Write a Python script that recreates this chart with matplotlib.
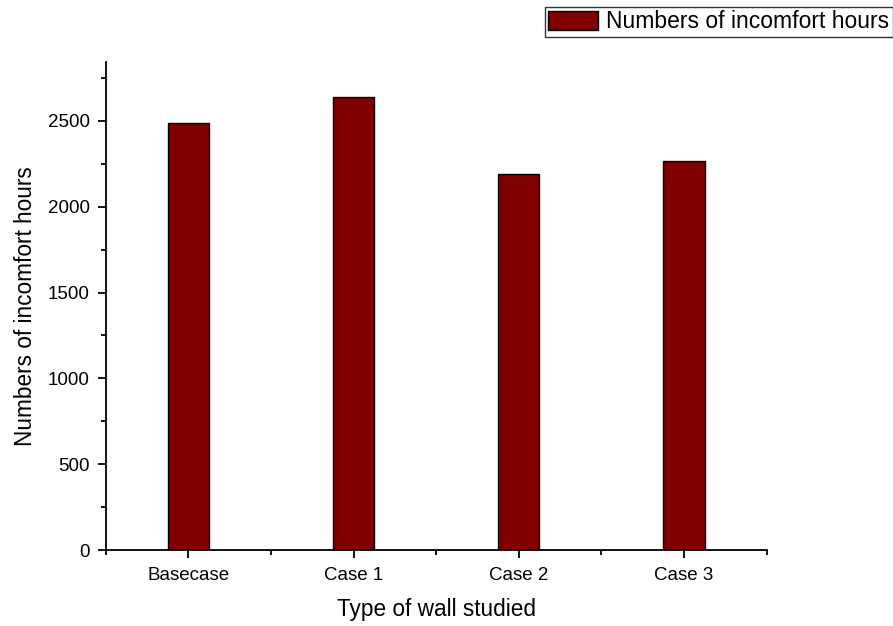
import matplotlib
matplotlib.use("Agg")
import matplotlib.pyplot as plt
from matplotlib.ticker import MultipleLocator, FixedLocator
from matplotlib.patches import Patch

categories = ["Basecase", "Case 1", "Case 2", "Case 3"]
hours = [2490, 2640, 2190, 2265]
y_ticks = [0, 500, 1000, 1500, 2000, 2500]
series_name = "Numbers of incomfort hours"

plt.rcParams['font.family'] = ['Liberation Sans', 'DejaVu Sans']

fig = plt.figure(figsize=(8.93, 6.26), dpi=100)
ax = fig.add_axes([0.1183, 0.1214, 0.7403, 0.78])

pos = list(range(1, len(categories) + 1))
ax.bar(pos, hours, width=0.25, color="#800000", edgecolor="black", linewidth=1.0)

ax.set_xlim(0.5, 4.5)
ax.set_ylim(0, 2845)
ax.set_xticks(pos)
ax.set_xticklabels(categories, fontsize=13.5)
ax.xaxis.set_minor_locator(FixedLocator([0.5, 1.5, 2.5, 3.5, 4.5]))
ax.set_yticks(y_ticks)
ax.set_yticklabels([str(v) for v in y_ticks], fontsize=13.5)
ax.yaxis.set_minor_locator(MultipleLocator(250))

for s in ["top", "right"]:
    ax.spines[s].set_visible(False)
for s in ["left", "bottom"]:
    ax.spines[s].set_linewidth(1.3)

ax.tick_params(axis="both", which="major", direction="out", length=6, width=1.3)
ax.tick_params(axis="y", which="major", pad=5.5)
ax.tick_params(axis="x", which="major", pad=6)
ax.tick_params(axis="both", which="minor", direction="out", length=3.5, width=1.3)

ax.set_xlabel("Type of wall studied", fontsize=16.3, labelpad=10)
ax.set_ylabel("Numbers of incomfort hours", fontsize=16.3, labelpad=8)

handle = Patch(facecolor="#800000", edgecolor="black", linewidth=1.0)
leg = fig.legend([handle], [series_name], loc="upper right",
                 bbox_to_anchor=(1.0, 1 - 7 / 626), fontsize=16.5,
                 frameon=True, fancybox=False, handlelength=2.2, handleheight=0.95,
                 borderpad=0.15, handletextpad=0.35, borderaxespad=0.0)
leg.get_frame().set_edgecolor("black")
leg.get_frame().set_linewidth(1.0)

fig.savefig("out.png", dpi=100)
